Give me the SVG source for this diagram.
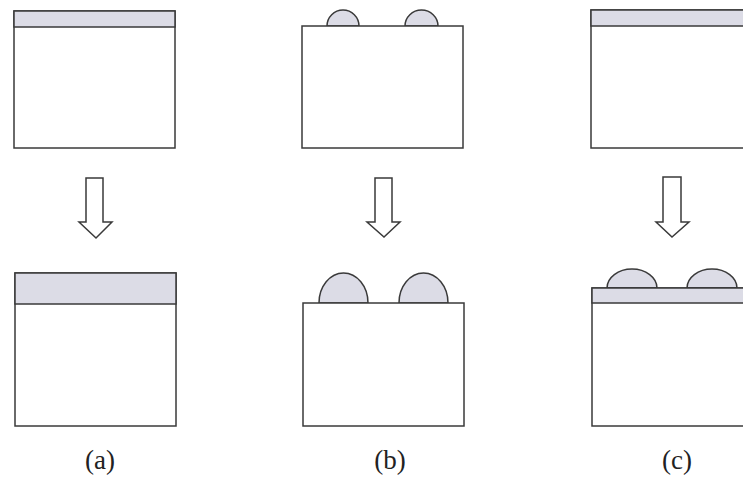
<svg xmlns="http://www.w3.org/2000/svg" width="743" height="481" viewBox="0 0 743 481">
<style>
.box{fill:#ffffff;stroke:#3a3a3a;stroke-width:1.5}
.film{fill:#dcdce6;stroke:#3a3a3a;stroke-width:1.5}
.arrow{fill:#ffffff;stroke:#3a3a3a;stroke-width:1.5;stroke-linejoin:miter}
.lbl{font-family:"Liberation Serif","Times New Roman",serif;font-size:27px;fill:#222;text-anchor:middle}
</style>
<rect width="743" height="481" fill="#ffffff"/>
<g id="a-top">
<rect class="box" x="14" y="11" width="161" height="137"/>
<rect class="film" x="14" y="11" width="161" height="16"/>
</g>
<g id="b-top">
<path class="film" d="M327,26 A16,16 0 0 1 359,26 Z"/>
<path class="film" d="M405,26 A16.5,16 0 0 1 438,26 Z"/>
<rect class="box" x="302" y="26" width="161" height="122"/>
</g>
<g id="c-top">
<rect class="box" x="591" y="10" width="160" height="138"/>
<rect class="film" x="591" y="10" width="160" height="16"/>
</g>
<g id="a-bottom">
<rect class="box" x="15" y="273" width="161" height="153"/>
<rect class="film" x="15" y="273" width="161" height="31"/>
</g>
<g id="b-bottom">
<path class="film" d="M319,303 A24.5,30 0 0 1 368,303 Z"/>
<path class="film" d="M399,303 A24.5,30 0 0 1 448,303 Z"/>
<rect class="box" x="303" y="303" width="161" height="123"/>
</g>
<g id="c-bottom">
<path class="film" d="M607,288 A25,19 0 0 1 657,288 Z"/>
<path class="film" d="M687,288 A25,19 0 0 1 737,288 Z"/>
<rect class="box" x="592" y="288" width="160" height="138"/>
<rect class="film" x="592" y="288" width="160" height="15"/>
</g>
<g id="connectors">
<path class="arrow" d="M86,178 H103 V222 H112 L96,238 L79,222 H86 Z"/>
<path class="arrow" d="M375,178 H392 V222 H400 L384,237 L367,222 H375 Z"/>
<path class="arrow" d="M663,177 H681 V222 H689 L672,237 L656,222 H663 Z"/>
</g>
<g id="labels">
<text class="lbl" x="100" y="469">(a)</text>
<text class="lbl" x="390" y="469">(b)</text>
<text class="lbl" x="677" y="469">(c)</text>
</g>
</svg>
